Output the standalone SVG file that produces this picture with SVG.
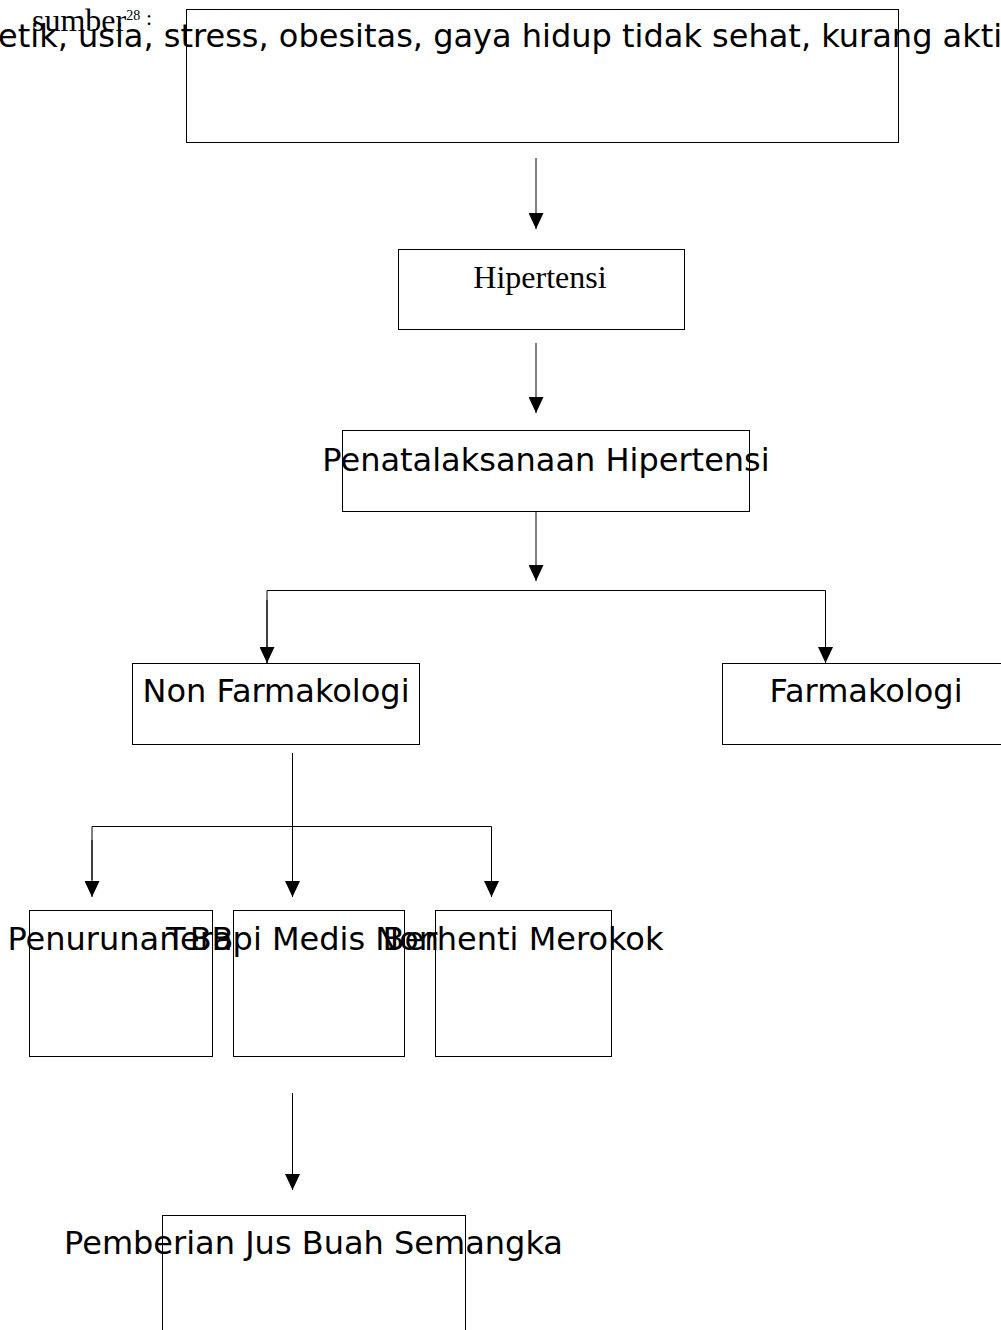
<svg xmlns="http://www.w3.org/2000/svg" width="1001" height="1330" viewBox="0 0 1001 1330">
<style>
.box{fill:none;stroke:#000;stroke-width:1}
.t{font-family:"DejaVu Sans",sans-serif;font-size:32px;fill:#000}
.s{font-family:"Liberation Serif","Times New Roman",serif;font-size:32px;fill:#000}
.c{text-anchor:middle}
.ln{fill:none;stroke:#000;stroke-width:1}
</style>
<defs>
<marker id="ah" markerUnits="userSpaceOnUse" markerWidth="16" markerHeight="15" viewBox="0 0 16 15" refX="16" refY="7.5" orient="auto">
<path d="M0,0 L16,7.5 L0,15 Z" fill="#000"/>
</marker>
</defs>
<rect width="1001" height="1330" fill="#fff"/>
<g id="source">
<text class="s" x="32" y="31" font-size="30">sumber<tspan font-size="14" y="20">28</tspan><tspan font-size="22" x="146" y="25">:</tspan></text>
</g>
<g id="node-faktor">
<rect class="box" x="186.5" y="9.5" width="712" height="133"/>
<text class="t" x="-2" y="47">etik, usia, stress, obesitas, gaya hidup tidak sehat, kurang akti</text>
</g>
<g id="node-hipertensi">
<rect class="box" x="398.5" y="249.5" width="286" height="80"/>
<text class="s c" x="540" y="288">Hipertensi</text>
</g>
<g id="node-penatalaksanaan">
<rect class="box" x="342.5" y="430.5" width="407" height="81"/>
<text class="t c" x="546" y="471">Penatalaksanaan Hipertensi</text>
</g>
<g id="node-nonfarmakologi">
<rect class="box" x="132.5" y="663.5" width="287" height="81"/>
<text class="t c" x="276" y="702">Non Farmakologi</text>
</g>
<g id="node-farmakologi">
<rect class="box" x="722.5" y="663.5" width="286" height="81"/>
<text class="t c" x="866" y="702">Farmakologi</text>
</g>
<g id="node-penurunan-bb">
<rect class="box" x="29.5" y="910.5" width="183" height="146"/>
<text class="t c" x="120.5" y="950">Penurunan BB</text>
</g>
<g id="node-terapi-medis">
<rect class="box" x="233.5" y="910.5" width="171" height="146"/>
<text class="t" x="166" y="950">Terapi Medis Non</text>
</g>
<g id="node-berhenti-merokok">
<rect class="box" x="435.5" y="910.5" width="176" height="146"/>
<text class="t c" x="523" y="950">Berhenti Merokok</text>
</g>
<g id="node-jus-semangka">
<rect class="box" x="162.5" y="1215.5" width="303" height="130"/>
<text class="t c" x="313.5" y="1254">Pemberian Jus Buah Semangka</text>
</g>
<g id="connectors">
<line class="ln" x1="536" y1="158" x2="536" y2="229" marker-end="url(#ah)"/>
<line class="ln" x1="536" y1="343" x2="536" y2="413" marker-end="url(#ah)"/>
<line class="ln" x1="536" y1="512" x2="536" y2="581" marker-end="url(#ah)"/>
<polyline class="ln" points="267,663 267,590.5 825.5,590.5 825.5,663"/>
<line class="ln" x1="267" y1="600" x2="267" y2="663" marker-end="url(#ah)"/>
<line class="ln" x1="825.5" y1="600" x2="825.5" y2="663" marker-end="url(#ah)"/>
<line class="ln" x1="292.5" y1="753" x2="292.5" y2="897" marker-end="url(#ah)"/>
<polyline class="ln" points="92,880 92,826.5 491.5,826.5 491.5,880"/>
<line class="ln" x1="92" y1="840" x2="92" y2="897" marker-end="url(#ah)"/>
<line class="ln" x1="491.5" y1="840" x2="491.5" y2="897" marker-end="url(#ah)"/>
<line class="ln" x1="292.5" y1="1093" x2="292.5" y2="1190" marker-end="url(#ah)"/>
</g>
</svg>
